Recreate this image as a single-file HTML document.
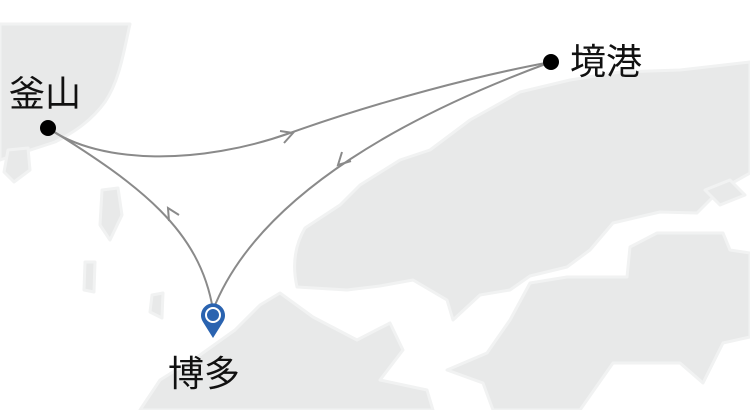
<!DOCTYPE html>
<html><head><meta charset="utf-8"><style>
html,body{margin:0;padding:0;background:#fff;}
svg{display:block;}
text{font-family:"Liberation Sans","Noto Sans CJK JP",sans-serif;font-size:36px;fill:#111;}
</style></head><body>
<svg width="750" height="410" viewBox="0 0 750 410" xmlns="http://www.w3.org/2000/svg">
<g fill="#e8e9e9" stroke="#f1f2f2" stroke-width="3" stroke-linejoin="round">
<path d="M0,24 L130,24 C124,50 120,80 105,102 C92,120 75,132 55,142 L0,160 Z"/>
<path d="M8,150 L28,148 L30,170 L14,182 L4,172 Z"/>
<path d="M102,190 L118,188 L122,215 L110,240 L100,225 Z"/>
<path d="M85,262 L95,262 L94,292 L84,290 Z"/>
<path d="M152,295 L163,293 L162,318 L150,312 Z"/>
<path d="M297,287 C292,265 295,245 305,228 L340,205 L360,185 L400,160 L430,150 L470,120 L520,92 L570,80 L620,72 L680,70 L750,62 L750,173 L720,190 L697,213 L660,212 L613,223 L590,250 L567,267 L530,276 L510,290 L480,295 L453,320 L447,300 L413,280 L380,286 L347,290 Z"/>
<path d="M140,410 L160,380 L200,355 L235,330 L260,305 L280,293 L313,317 L357,340 L390,323 L403,350 L380,380 L427,390 L433,410 Z"/>
<path d="M493,410 L483,383 L447,370 L487,353 L510,320 L530,283 L567,277 L627,277 L630,247 L657,233 L723,233 L730,250 L750,253 L750,337 L723,343 L703,383 L680,363 L613,363 L580,410 Z"/>
<path d="M705,190 L730,180 L745,195 L720,205 Z"/>
</g>
<g fill="none" stroke="#8a8a8a" stroke-width="2">
<path d="M48,128 C100,165 200,165 290,133 S480,75 551,62"/>
<path d="M551,62 C420,110 260,190 213,310"/>
<path d="M213,310 C200,230 140,185 48,128"/>
<polyline points="280,131 293,133 284,143"/>
<polyline points="342,152 338,165 351,161"/>
<polyline points="169,221 168,208 179,215"/>
</g>
<circle cx="48" cy="128" r="8" fill="#000"/>
<circle cx="551" cy="62" r="8" fill="#000"/>
<path d="M213,338 L203,322 A12,12 0 1 1 223,322 Z" fill="#2a63b0"/>
<circle cx="213" cy="315" r="7" fill="none" stroke="#fff" stroke-width="2"/>
<text x="9" y="106">釜山</text>
<text x="570" y="74">境港</text>
<text x="168" y="386">博多</text>
</svg>
</body></html>
